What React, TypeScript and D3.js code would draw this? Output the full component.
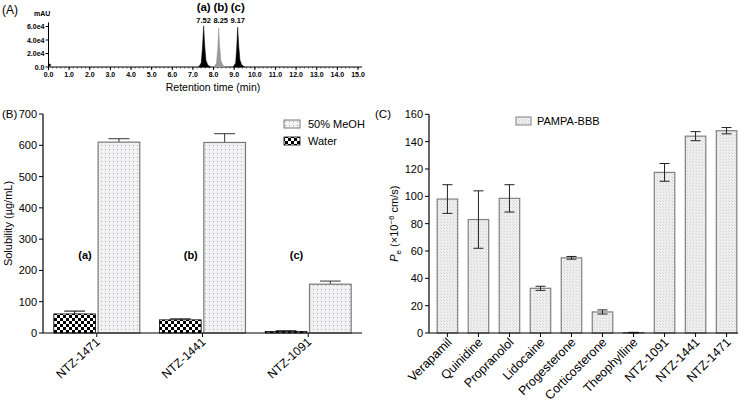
import * as d3 from 'd3'

// ── Panel A: chromatogram peaks (retention time, intensity ×1e4) ──
const peakA_t = [7.28, 7.40, 7.46, 7.52, 7.57, 7.63, 7.72, 7.85]
const peakA_v = [0, 0.6, 2.8, 6.1, 3.2, 1.0, 0.3, 0]
const peakB_t = [8.02, 8.14, 8.20, 8.25, 8.30, 8.36, 8.45, 8.58]
const peakB_v = [0, 0.6, 2.7, 5.8, 3.0, 0.9, 0.3, 0]
const peakC_t = [8.95, 9.07, 9.12, 9.17, 9.22, 9.28, 9.37, 9.50]
const peakC_v = [0, 0.6, 2.8, 5.9, 3.1, 1.0, 0.3, 0]
const peakLabels = ['7.52', '8.25', '9.17']
const peakTags = ['(a)', '(b)', '(c)']
const timeTicks = d3.range(0, 15.01, 1)
const mauTicks = [0, 2, 4, 6]

// ── Panel B: solubility ──
const compoundsB = ['NTZ-1471', 'NTZ-1441', 'NTZ-1091']
const waterMean = [61, 42, 5]
const waterErr = [9, 3, 2]
const meohMean = [610, 609, 156]
const meohErr = [11, 28, 10]
const tagsB = ['(a)', '(b)', '(c)']
const solTicks = [0, 100, 200, 300, 400, 500, 600, 700]

// ── Panel C: PAMPA-BBB ──
const compoundsC = ['Verapamil', 'Quinidine', 'Propranolol', 'Lidocaine', 'Progesterone',
  'Corticosterone', 'Theophylline', 'NTZ-1091', 'NTZ-1441', 'NTZ-1471']
const peMean = [98, 83, 98.5, 32.7, 55, 15.4, 0.3, 117.5, 144, 148]
const peErr = [10.5, 21, 10, 1.5, 1, 1.5, 0.2, 6.5, 3.3, 2.3]
const peTicks = [0, 20, 40, 60, 80, 100, 120, 140, 160]

const FONT = 'Liberation Sans, Arial, sans-serif'

function PanelA() {
  const x = d3.scaleLinear().domain([0, 15]).range([48.5, 358])
  const y = d3.scaleLinear().domain([0, 6]).range([67, 26.5])
  const line = d3.line<[number, number]>().x(d => x(d[0])).y(d => y(d[1]))
  const peaks = [
    { t: peakA_t, v: peakA_v, c: '#000' },
    { t: peakB_t, v: peakB_v, c: '#9a9a9a' },
    { t: peakC_t, v: peakC_v, c: '#000' },
  ]
  const minor = d3.range(0, 15.01, 0.2)
  return (
    <g fontFamily={FONT}>
      <text x={2} y={14} fontSize={12}>(A)</text>
      <text x={34} y={16} fontSize={7} fontWeight="bold">mAU</text>
      {/* y axis */}
      <line x1={x(0)} x2={x(0)} y1={y(0)} y2={y(6.6)} stroke="#000" strokeWidth={1} />
      {mauTicks.map(t => (
        <g key={t}>
          <line x1={x(0) - 3} x2={x(0)} y1={y(t)} y2={y(t)} stroke="#000" />
          <text x={x(0) - 4} y={y(t) + 2.5} fontSize={7} fontWeight="bold" textAnchor="end">
            {t === 0 ? '0.0' : `${t.toFixed(1)}e4`}
          </text>
        </g>
      ))}
      {/* x axis */}
      <line x1={x(0)} x2={x(15.2)} y1={y(0)} y2={y(0)} stroke="#000" strokeWidth={1} />
      {minor.map((t, i) => (
        <line key={i} x1={x(t)} x2={x(t)} y1={y(0)} y2={y(0) + 1.5} stroke="#000" strokeWidth={0.6} />
      ))}
      {timeTicks.map(t => (
        <g key={t}>
          <line x1={x(t)} x2={x(t)} y1={y(0)} y2={y(0) + 3} stroke="#000" />
          <text x={x(t)} y={y(0) + 10} fontSize={7} fontWeight="bold" textAnchor="middle">{t.toFixed(1)}</text>
        </g>
      ))}
      <path d={`M${x(0)},${y(0) - 4} l3,2 l-3,2 z`} fill="#000" />
      {peaks.map((p, i) => (
        <path key={i} d={line(p.t.map((t, j) => [t, p.v[j]] as [number, number])) + 'Z'} fill={p.c} stroke={p.c} strokeWidth={0.5} />
      ))}
      {peaks.map((p, i) => {
        const top = p.v.indexOf(Math.max(...p.v))
        return (
          <g key={i}>
            <text x={x(p.t[top]) + (i === 1 ? 2 : 0)} y={23} fontSize={7.5} fontWeight="bold" textAnchor="middle">{peakLabels[i]}</text>
            <text x={x(p.t[top]) + (i === 1 ? 2 : 0)} y={11} fontSize={11.5} fontWeight="bold" textAnchor="middle">{peakTags[i]}</text>
          </g>
        )
      })}
      <text x={213} y={91} fontSize={10.5} textAnchor="middle">Retention  time (min)</text>
    </g>
  )
}

function PanelB() {
  const y = d3.scaleLinear().domain([0, 700]).range([333, 114])
  const x0 = d3.scaleBand().domain(compoundsB).range([45, 360]).paddingInner(0.12).paddingOuter(0.05)
  const x1 = d3.scaleBand().domain(['water', 'meoh']).range([0, x0.bandwidth()]).paddingInner(0.06).paddingOuter(0.08)
  const axisX = 43
  return (
    <g fontFamily={FONT}>
      <text x={2} y={118} fontSize={11.5}>(B)</text>
      <line x1={axisX} x2={axisX} y1={y(0)} y2={y(700)} stroke="#000" strokeWidth={1.2} />
      {solTicks.map(t => (
        <g key={t}>
          <line x1={axisX - 4} x2={axisX} y1={y(t)} y2={y(t)} stroke="#000" />
          <text x={axisX - 6} y={y(t) + 4} fontSize={11} textAnchor="end">{t}</text>
        </g>
      ))}
      <text transform={`translate(12,${(y(0) + y(700)) / 2}) rotate(-90)`} fontSize={11} textAnchor="middle">Solubility (µg/mL)</text>
      {compoundsB.map((c, i) => {
        const gx = x0(c)!
        const wx = gx + x1('water')!
        const mx = gx + x1('meoh')!
        const bw = x1.bandwidth()
        return (
          <g key={c}>
            <line x1={wx + bw / 2} x2={wx + bw / 2} y1={y(waterMean[i])} y2={y(waterMean[i] + waterErr[i])} stroke="#000" />
            <line x1={wx + bw / 4} x2={wx + bw * 3 / 4} y1={y(waterMean[i] + waterErr[i])} y2={y(waterMean[i] + waterErr[i])} stroke="#000" />
            <rect x={wx} y={y(waterMean[i])} width={bw} height={y(0) - y(waterMean[i])} fill="url(#checker)" stroke="#000" strokeWidth={0.8} />
            <line x1={mx + bw / 2} x2={mx + bw / 2} y1={y(meohMean[i])} y2={y(meohMean[i] + meohErr[i])} stroke="#333" />
            <line x1={mx + bw / 4} x2={mx + bw * 3 / 4} y1={y(meohMean[i] + meohErr[i])} y2={y(meohMean[i] + meohErr[i])} stroke="#333" />
            <rect x={mx} y={y(meohMean[i])} width={bw} height={y(0) - y(meohMean[i])} fill="url(#dots)" stroke="#777" strokeWidth={1.2} />
            <text x={wx + bw * 0.75} y={259} fontSize={11} fontWeight="bold" textAnchor="middle">{tagsB[i]}</text>
            <text transform={`translate(${gx + x0.bandwidth() / 2 + 4},343) rotate(-42)`} fontSize={12} textAnchor="end">{c}</text>
            <line x1={gx + x0.bandwidth() / 2} x2={gx + x0.bandwidth() / 2} y1={y(0)} y2={y(0) + 4} stroke="#000" />
          </g>
        )
      })}
      <line x1={axisX} x2={362} y1={y(0)} y2={y(0)} stroke="#000" strokeWidth={1.2} />
      {/* legend */}
      <rect x={284} y={120} width={16} height={8} fill="url(#dots)" stroke="#777" strokeWidth={1} />
      <text x={308} y={128} fontSize={11}>50% MeOH</text>
      <rect x={284} y={137} width={16} height={8} fill="url(#checker)" stroke="#000" strokeWidth={0.8} />
      <text x={308} y={145} fontSize={11}>Water</text>
    </g>
  )
}

function PanelC() {
  const y = d3.scaleLinear().domain([0, 160]).range([333, 114.3])
  const x = d3.scaleBand().domain(compoundsC).range([431, 743]).paddingInner(0.34).paddingOuter(0.2)
  const axisX = 429
  const bw = x.bandwidth()
  return (
    <g fontFamily={FONT}>
      <text x={375} y={118} fontSize={11.5}>(C)</text>
      <line x1={axisX} x2={axisX} y1={y(0)} y2={y(160)} stroke="#000" strokeWidth={1.2} />
      {peTicks.map(t => (
        <g key={t}>
          <line x1={axisX - 4} x2={axisX} y1={y(t)} y2={y(t)} stroke="#000" />
          <text x={axisX - 6} y={y(t) + 4} fontSize={11} textAnchor="end">{t}</text>
        </g>
      ))}
      <text transform={`translate(398,${(y(0) + y(160)) / 2}) rotate(-90)`} fontSize={11} textAnchor="middle">
        <tspan fontStyle="italic">P</tspan><tspan fontSize={8} dy={3}>e</tspan>
        <tspan dy={-3}> (×10</tspan><tspan fontSize={8} dy={-4}>−6</tspan><tspan dy={4}> cm/s)</tspan>
      </text>
      {compoundsC.map((c, i) => {
        const bx = x(c)!
        const cx = bx + bw / 2
        const hi = y(peMean[i] + peErr[i])
        const lo = y(peMean[i] - peErr[i])
        return (
          <g key={c}>
            <rect x={bx} y={y(peMean[i])} width={bw} height={y(0) - y(peMean[i])} fill="url(#hatch)" stroke="#808080" strokeWidth={1.2} />
            <line x1={cx} x2={cx} y1={hi} y2={lo} stroke="#222" />
            <line x1={cx - 5} x2={cx + 5} y1={hi} y2={hi} stroke="#222" />
            <line x1={cx - 5} x2={cx + 5} y1={lo} y2={lo} stroke="#222" />
            <line x1={cx} x2={cx} y1={y(0)} y2={y(0) + 4} stroke="#000" />
            <text transform={`translate(${cx + 5},343) rotate(-45)`} fontSize={12.5} textAnchor="end">{c}</text>
          </g>
        )
      })}
      <line x1={axisX} x2={738} y1={y(0)} y2={y(0)} stroke="#000" strokeWidth={1.2} />
      <rect x={516} y={117} width={15} height={8} fill="url(#hatch)" stroke="#808080" strokeWidth={1} />
      <text x={537} y={125} fontSize={11}>PAMPA-BBB</text>
    </g>
  )
}

export default function App() {
  return (
    <svg width={745} height={403} viewBox="0 0 745 403"
      style={{ position: 'absolute', left: 0, top: 0, background: '#fff' }}>
      <defs>
        <pattern id="dots" width={4} height={4} patternUnits="userSpaceOnUse">
          <rect width={4} height={4} fill="#f2f2f4" />
          <rect x={1} y={1} width={1} height={1} fill="#a8a8b0" />
        </pattern>
        <pattern id="checker" width={6} height={6} patternUnits="userSpaceOnUse">
          <rect width={6} height={6} fill="#fff" />
          <rect width={3} height={3} fill="#000" />
          <rect x={3} y={3} width={3} height={3} fill="#000" />
        </pattern>
        <pattern id="hatch" width={3} height={3} patternUnits="userSpaceOnUse">
          <rect width={3} height={3} fill="#efefef" />
          <rect width={1} height={1} fill="#d0d0d0" />
          <rect x={2} y={2} width={1} height={1} fill="#dcdcdc" />
        </pattern>
      </defs>
      <rect width={745} height={403} fill="#fff" />
      <PanelA />
      <PanelB />
      <PanelC />
    </svg>
  )
}
